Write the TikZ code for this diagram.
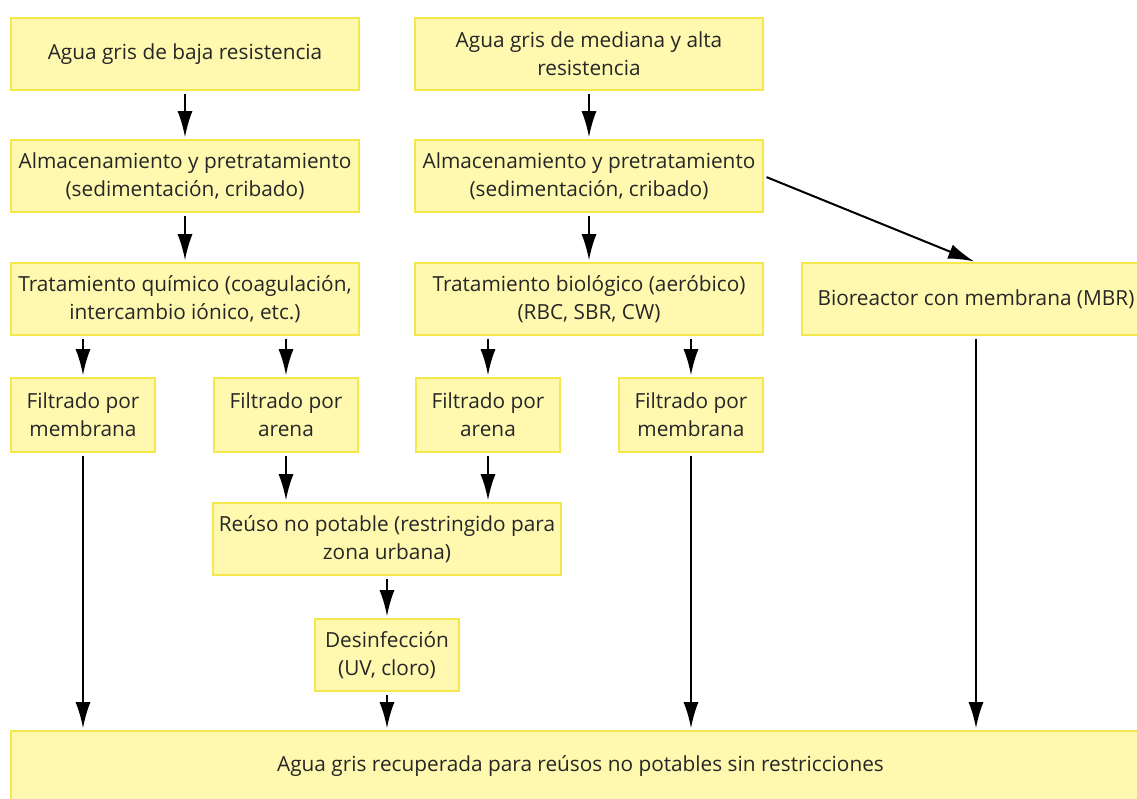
\documentclass[tikz,border=0pt]{standalone}
\usepackage{fontspec}
\setmainfont{Open Sans}
\usetikzlibrary{arrows.meta,positioning}
\definecolor{boxfill}{HTML}{FFF9B0}
\definecolor{boxline}{HTML}{F5E84C}
\definecolor{txt}{HTML}{262626}
\tikzset{
  stage/.style={draw=boxline,fill=boxfill,line width=0.8pt,align=center,text=txt,
    inner sep=2pt,font=\fontsize{10.4}{14}\selectfont},
  wide/.style={stage,minimum width=174pt,minimum height=36pt},
  narrow/.style={stage,minimum width=72pt,minimum height=37pt},
  arrow/.style={-{Latex[length=13pt,width=7.5pt]},line width=1pt,
    shorten <=1.5pt,shorten >=1pt}
}
\begin{document}
\begin{tikzpicture}[x=0.5pt,y=-0.5pt]
\useasboundingbox (0,0) rectangle (1137,799);
\node[wide] (a1) at (185,54) {Agua gris de baja resistencia};
\node[wide] (b1) at (589,54) {Agua gris de mediana y alta\\resistencia};
\node[wide] (a2) at (185,176) {Almacenamiento y pretratamiento\\(sedimentación, cribado)};
\node[wide] (b2) at (589,176) {Almacenamiento y pretratamiento\\(sedimentación, cribado)};
\node[wide] (a3) at (185,299) {Tratamiento químico (coagulación,\\intercambio iónico, etc.)};
\node[wide] (b3) at (589,299) {Tratamiento biológico (aeróbico)\\(RBC, SBR, CW)};
\node[wide] (mbr) at (976,299) {Bioreactor con membrana (MBR)};
\node[narrow] (memA) at (83,415) {Filtrado por\\membrana};
\node[narrow] (arenaA) at (286,415) {Filtrado por\\arena};
\node[narrow] (arenaB) at (488,415) {Filtrado por\\arena};
\node[narrow] (memB) at (691,415) {Filtrado por\\membrana};
\node[wide] (reuso) at (387,539) {Reúso no potable (restringido para\\zona urbana)};
\node[narrow,minimum height=36pt] (desinf) at (387,655) {Desinfección\\(UV, cloro)};
\node[stage,minimum width=569.5pt,minimum height=35pt] (fin) at (580.5,766)
  {Agua gris recuperada para reúsos no potables sin restricciones};
\draw[arrow] (a1) -- (a2);
\draw[arrow] (b1) -- (b2);
\draw[arrow] (a2) -- (a3);
\draw[arrow] (b2) -- (b3);
\draw[arrow] (b2.east) -- (mbr.north);
\foreach \x/\y in {a3/memA,a3/arenaA,b3/arenaB,b3/memB}
  \draw[arrow] (\x.south -| \y) -- (\y);
\foreach \x in {arenaA,arenaB} \draw[arrow] (\x) -- (\x |- reuso.north);
\draw[arrow] (reuso) -- (desinf);
\foreach \x in {memA,desinf,memB,mbr} \draw[arrow] (\x) -- (\x |- fin.north);
\end{tikzpicture}
\end{document}
